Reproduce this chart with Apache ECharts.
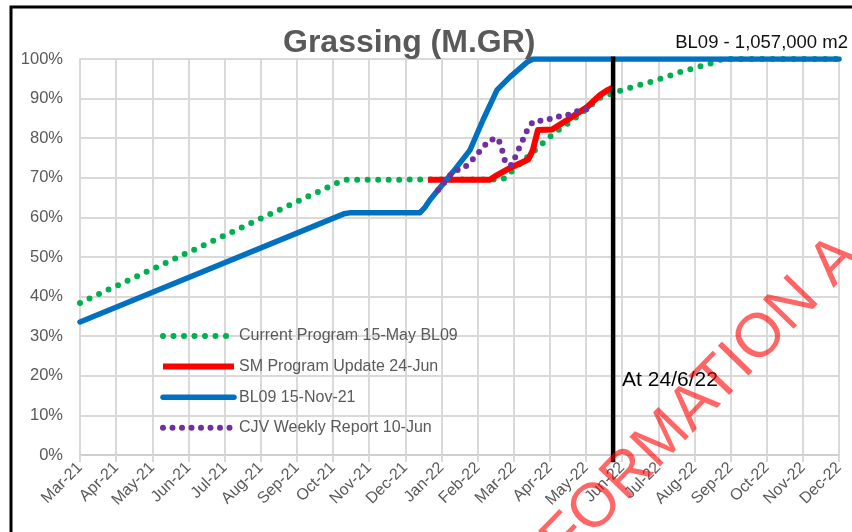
<!DOCTYPE html>
<html>
<head>
<meta charset="utf-8">
<script src="https://cdn.jsdelivr.net/npm/echarts@6/dist/echarts.min.js"></script>
<style>
html,body{margin:0;padding:0;background:#fff;}
#chart{width:852px;height:532px;}
</style>
</head>
<body>
<div id="chart"></div>
<script>
// ---- data (x = month index from Mar-21, y = percent) ----
const months = ['Mar-21','Apr-21','May-21','Jun-21','Jul-21','Aug-21','Sep-21','Oct-21','Nov-21','Dec-21','Jan-22','Feb-22','Mar-22','Apr-22','May-22','Jun-22','Jul-22','Aug-22','Sep-22','Oct-22','Nov-22','Dec-22'];
const seriesNames = ['Current Program 15-May BL09','SM Program Update 24-Jun','BL09 15-Nov-21','CJV Weekly Report 10-Jun'];
const currentProgram = [[0,38.4],[7.3,69.5],[11.7,69.6],[12.65,77.5],[13.12,81.3],[13.64,84.6],[14.39,90.2],[15.02,92.2],[15.97,94.7],[16.6,96.7],[17.57,99.2],[17.76,100],[21,100]];
const smUpdate = [[9.63,69.5],[11.34,69.5],[11.54,70.7],[11.9,72.5],[12.4,74.6],[12.53,77],[12.67,82.1],[13.06,82.2],[13.48,84.6],[14.03,87.9],[14.39,90.9],[14.61,92.2],[14.72,92.7]];
const bl09 = [[0,33.6],[7.3,60.9],[7.5,61.2],[9.41,61.2],[9.55,62.6],[9.68,64.4],[10.32,71.5],[10.79,77],[11.15,84.6],[11.54,92.2],[11.9,95.5],[12.37,99.2],[12.53,100],[21,100]];
const cjvWeekly = [[9.91,66.9],[10.32,71.5],[10.65,72.7],[10.87,74.7],[11.12,77.3],[11.32,79.5],[11.57,80],[11.68,77],[11.78,73.5],[11.95,73.2],[12.1,76.5],[12.25,79.5],[12.37,82],[12.53,84.2],[12.89,84.6],[13.2,85.4],[13.5,85.9],[13.84,87.1],[14.11,87.4]];
const statusDateX = 14.75;
const statusLineY = [100.6, -1.8];
const statusLabel = 'At 24/6/22';
const statusLabelY = 19;
const titleText = 'Grassing (M.GR)';
const subText = 'BL09 - 1,057,000 m2';
const watermarkText = 'FORMATION A';

const FONT = '"Liberation Sans", Arial, sans-serif';
const chart = echarts.init(document.getElementById('chart'), null, {renderer:'canvas'});

const gridColor = '#d9d9d9';
const styles = [
  {color:'#00B050', width:6, type:[0,10.5], cap:'round'},
  {color:'#FF0000', width:6, type:'solid', cap:'butt'},
  {color:'#0070C0', width:5.5, type:'solid', cap:'round'},
  {color:'#7030A0', width:6, type:[0,9.5], cap:'round'}
];
const option = {
  backgroundColor:'#ffffff',
  animation:false,
  title:[
    {text:titleText, left:283, top:27, padding:0,
     textStyle:{fontFamily:FONT, fontSize:32, fontWeight:'bold', color:'#595959'}},
    {text:subText, right:4, top:33, padding:0,
     textStyle:{fontFamily:FONT, fontSize:18.5, fontWeight:'normal', color:'#111'}}
  ],
  grid:{left:80, right:13, top:59, bottom:77, containLabel:false},
  legend:{
    data:seriesNames.map(function(n,i){
      return {name:n, itemStyle:{opacity:0}, lineStyle:{color:styles[i].color, width:styles[i].width, type:styles[i].type, cap:styles[i].cap}};
    }),
    orient:'vertical', left:160, top:328, padding:0,
    itemWidth:71, itemHeight:14, itemGap:14.6,
    textStyle:{fontFamily:FONT, fontSize:16, color:'#595959'}
  },
  xAxis:{
    type:'value', min:0, max:21, interval:1,
    axisLine:{show:true, lineStyle:{color:'#cfcfcf', width:2}},
    axisTick:{show:true, length:7, lineStyle:{color:gridColor, width:2}},
    splitLine:{show:true, lineStyle:{color:gridColor, width:2}},
    axisLabel:{rotate:45, margin:10, fontFamily:FONT, fontSize:16, color:'#595959',
      formatter:function(v){ return months[Math.round(v)] || ''; }}
  },
  yAxis:{
    type:'value', min:0, max:100, interval:10,
    axisLine:{show:true, lineStyle:{color:gridColor, width:2}},
    axisTick:{show:false},
    splitLine:{show:true, lineStyle:{color:gridColor, width:2}},
    axisLabel:{margin:17, fontFamily:FONT, fontSize:16.5, color:'#595959', formatter:'{value}%'}
  },
  series:[
    {name:seriesNames[0], type:'line', data:currentProgram, symbol:'none', z:3,
     lineStyle:styles[0], itemStyle:{color:styles[0].color}},
    {name:seriesNames[1], type:'line', data:smUpdate, symbol:'none', z:4,
     lineStyle:Object.assign({join:'round'}, styles[1]), itemStyle:{color:styles[1].color}},
    {name:seriesNames[2], type:'line', data:bl09, symbol:'none', z:5,
     lineStyle:Object.assign({join:'round'}, styles[2]), itemStyle:{color:styles[2].color}},
    {name:seriesNames[3], type:'line', data:cjvWeekly, symbol:'none', z:6,
     lineStyle:styles[3], itemStyle:{color:styles[3].color}},
    {name:'status', type:'line', data:statusLineY.map(function(y){return [statusDateX,y];}),
     symbol:'none', clip:false, z:7, silent:true,
     lineStyle:{color:'#000', width:4.5}}
  ]
};
chart.setOption(option);

const p = chart.convertToPixel({gridIndex:0}, [statusDateX, statusLabelY]);
chart.setOption({
  graphic:[
    {type:'text', x:p[0]+9, y:p[1], z:50,
     style:{text:statusLabel, fontFamily:FONT, fontSize:21, fill:'#000', textAlign:'left', textVerticalAlign:'middle'}},
    {type:'text', x:553, y:552, rotation:0.80, z:100, silent:true,
     style:{text:watermarkText, fontFamily:FONT, fontSize:62, fill:'rgba(255,0,0,0.6)', textAlign:'left', textVerticalAlign:'middle'}},
    {type:'rect', z:100, silent:true, shape:{x:11, y:7, width:900, height:600},
     style:{fill:'none', stroke:'#000', lineWidth:3}}
  ]
});
</script>
</body>
</html>
